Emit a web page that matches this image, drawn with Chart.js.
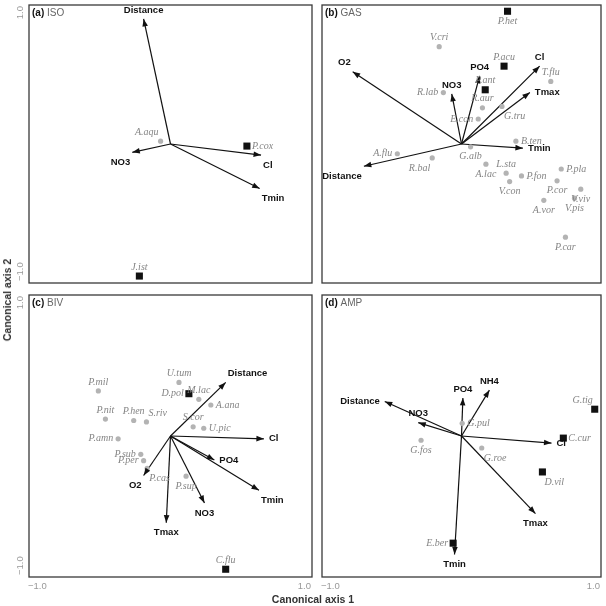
<html>
<head>
<style>
body { margin:0; background:#fff; }
#wrap { position:relative; width:606px; height:606px; }
canvas { position:absolute; left:0; top:0; }
.ttl { position:absolute; font-family:"Liberation Sans", Arial, sans-serif; font-weight:bold; font-size:10.5px; color:#333; white-space:nowrap; }
</style>
</head>
<body>
<script src="https://cdn.jsdelivr.net/npm/chart.js@4"></script>
<div id="wrap">
<canvas id="cA" width="606" height="606"></canvas>
<canvas id="cB" width="606" height="606"></canvas>
<canvas id="cC" width="606" height="606"></canvas>
<canvas id="cD" width="606" height="606"></canvas>
<div class="ttl" style="left:313px;top:599px;transform:translate(-50%,-50%)">Canonical axis 1</div>
<div class="ttl" style="left:7px;top:300px;transform:translate(-50%,-50%) rotate(-90deg)">Canonical axis 2</div>
</div>
<script>
// (a) ISO
const isoEnv = ['Distance', 'NO3', 'Cl', 'Tmin'];
const isoEnvX = [-0.19, -0.27, 0.64, 0.63];
const isoEnvY = [0.90, -0.06, -0.08, -0.32];
const isoSpp = ['A.aqu', 'P.cox', 'J.ist'];
const isoSppX = [-0.07, 0.54, -0.22];
const isoSppY = [0.02, -0.015, -0.95];
const isoSppKind = ['o', 's', 's'];

// (b) GAS
const gasEnv = ['O2', 'NO3', 'PO4', 'Cl', 'Tmax', 'Tmin', 'Distance'];
const gasEnvX = [-0.78, -0.07, 0.13, 0.56, 0.49, 0.44, -0.70];
const gasEnvY = [0.52, 0.36, 0.49, 0.56, 0.37, -0.03, -0.16];
const gasSpp = ['P.het', 'V.cri', 'P.acu', 'P.ant', 'T.flu', 'R.lab', 'R.aur', 'G.tru', 'E.con', 'B.ten', 'G.alb', 'A.flu',
  'R.bal', 'A.lac', 'L.sta', 'P.fon', 'V.con', 'P.pla', 'P.cor', 'V.viv', 'V.pis', 'A.vor', 'P.car'];
const gasSppX = [0.33, -0.16, 0.305, 0.17, 0.64, -0.13, 0.15, 0.29, 0.12, 0.39, 0.065, -0.46,
  -0.21, 0.175, 0.32, 0.43, 0.345, 0.715, 0.685, 0.855, 0.81, 0.59, 0.745];
const gasSppY = [0.955, 0.70, 0.56, 0.39, 0.45, 0.37, 0.26, 0.27, 0.18, 0.02, -0.02, -0.07,
  -0.10, -0.145, -0.21, -0.23, -0.27, -0.18, -0.265, -0.325, -0.39, -0.405, -0.67];
const gasSppKind = ['s', 'o', 's', 's', 'o', 'o', 'o', 'o', 'o', 'o', 'o', 'o',
  'o', 'o', 'o', 'o', 'o', 'o', 'o', 'o', 'o', 'o', 'o'];

// (c) BIV
const bivEnv = ['Distance', 'Cl', 'PO4', 'Tmin', 'NO3', 'Tmax', 'O2'];
const bivEnvX = [0.39, 0.66, 0.31, 0.625, 0.24, -0.03, -0.19];
const bivEnvY = [0.38, -0.02, -0.17, -0.385, -0.475, -0.615, -0.28];
const bivSpp = ['U.tum', 'D.pol', 'M.lac', 'A.ana', 'P.mil', 'P.nit', 'P.hen', 'S.riv', 'S.cor', 'U.pic', 'P.amn',
  'P.sub', 'P.per', 'P.cas', 'P.sup', 'C.flu'];
const bivSppX = [0.06, 0.13, 0.20, 0.285, -0.51, -0.46, -0.26, -0.17, 0.16, 0.235, -0.37, -0.21, -0.19, -0.165, 0.11, 0.39];
const bivSppY = [0.38, 0.30, 0.26, 0.22, 0.32, 0.12, 0.11, 0.10, 0.065, 0.055, -0.02, -0.13, -0.175, -0.23, -0.285, -0.945];
const bivSppKind = ['o', 's', 'o', 'o', 'o', 'o', 'o', 'o', 'o', 'o', 'o', 'o', 'o', 'o', 'o', 's'];

// (d) AMP
const ampEnv = ['PO4', 'NH4', 'Distance', 'NO3', 'Cl', 'Tmax', 'Tmin'];
const ampEnvX = [0.01, 0.20, -0.55, -0.31, 0.645, 0.53, -0.05];
const ampEnvY = [0.27, 0.325, 0.245, 0.095, -0.05, -0.55, -0.84];
const ampSpp = ['G.pul', 'G.fos', 'G.roe', 'G.tig', 'C.cur', 'D.vil', 'E.ber'];
const ampSppX = [0.005, -0.29, 0.145, 0.955, 0.73, 0.58, -0.06];
const ampSppY = [0.09, -0.03, -0.085, 0.19, -0.015, -0.255, -0.76];
const ampSppKind = ['o', 'o', 'o', 's', 's', 's', 's'];

const axisTicks = [-1.0, 1.0];

// where each label sits next to its point (t/b/l/r and corners)
const isoEnvPos = ['t', 'bl', 'br', 'br'];
const isoSppPos = ['tl', 'r', 't'];
const gasEnvPos = ['tl', 't', 't', 't', 'r', 'r', 'bl'];
const gasSppPos = ['b', 't', 't', 't', 't', 'l', 't', 'br', 'l', 'r', 'b', 'l',
  'bl', 'b', 't', 'r', 'b', 'r', 'b', 'b', 'b', 'b', 'b'];
const bivEnvPos = ['tr', 'r', 'r', 'br', 'b', 'b', 'bl'];
const bivSppPos = ['t', 'l', 't', 'r', 't', 't', 't', 'tr', 't', 'r', 'l', 'l', 'l', 'br', 'b', 't'];
const ampEnvPos = ['t', 't', 'l', 't', 'r', 'b', 'b'];
const ampSppPos = ['r', 'b', 'br', 'tl', 'r', 'br', 'l'];

function putLabel(ctx, text, x, y, pos) {
  let dx = 0, dy = 0, align = 'center';
  if (pos.includes('t')) dy = -9;
  if (pos.includes('b')) dy = 10;
  const diag = pos.length > 1;
  if (pos.includes('l')) { dx = diag ? -2 : -5; align = 'right'; }
  if (pos.includes('r')) { dx = diag ? 2 : 5; align = 'left'; }
  ctx.textAlign = align;
  ctx.textBaseline = 'middle';
  ctx.fillText(text, x + dx, y + dy);
}

function fmt(v) {
  return (v < 0 ? '\u2212' : '') + Math.abs(v).toFixed(1);
}

function buildPanel(id, box, tag, name, env, envX, envY, envPos, spp, sppX, sppY, sppKind, sppPos, showX, showY) {
  const datasets = [];
  datasets.push({
    data: spp.map((s, i) => ({ x: sppX[i], y: sppY[i] })),
    pointStyle: sppKind.map(k => k === 's' ? 'rect' : 'circle'),
    pointRadius: sppKind.map(k => k === 's' ? 5 : 2.6),
    backgroundColor: sppKind.map(k => k === 's' ? '#111' : '#b3b3b3'),
    borderWidth: 0,
    showLine: false,
    clip: false
  });
  for (let i = 0; i < env.length; i++) {
    datasets.push({
      data: [{ x: 0, y: 0 }, { x: envX[i], y: envY[i] }],
      showLine: true,
      borderColor: '#111',
      borderWidth: 1.2,
      pointRadius: 0,
      clip: false
    });
  }

  const plug = {
    id: 'biplot_' + id,
    afterDatasetsDraw(chart) {
      const ctx = chart.ctx;
      ctx.save();
      // arrow heads + env labels
      for (let i = 0; i < env.length; i++) {
        const pts = chart.getDatasetMeta(i + 1).data;
        const a = pts[0], b = pts[1];
        const ang = Math.atan2(b.y - a.y, b.x - a.x);
        ctx.fillStyle = '#111';
        ctx.beginPath();
        ctx.moveTo(b.x, b.y);
        ctx.lineTo(b.x - 7.5 * Math.cos(ang) + 2.8 * Math.sin(ang), b.y - 7.5 * Math.sin(ang) - 2.8 * Math.cos(ang));
        ctx.lineTo(b.x - 7.5 * Math.cos(ang) - 2.8 * Math.sin(ang), b.y - 7.5 * Math.sin(ang) + 2.8 * Math.cos(ang));
        ctx.closePath();
        ctx.fill();
        ctx.font = 'bold 9.5px "Liberation Sans", Arial, sans-serif';
        ctx.fillStyle = '#111';
        putLabel(ctx, env[i], b.x, b.y, envPos[i]);
      }
      // species labels
      const sp = chart.getDatasetMeta(0).data;
      ctx.font = 'italic 10px "Liberation Serif", "Times New Roman", serif';
      ctx.fillStyle = '#858585';
      sp.forEach((p, j) => putLabel(ctx, spp[j], p.x, p.y, sppPos[j]));
      ctx.restore();
    },
    afterDraw(chart) {
      const ctx = chart.ctx, ca = chart.chartArea;
      const xs = chart.scales.x, ys = chart.scales.y;
      ctx.save();
      ctx.strokeStyle = '#3a3a3a';
      ctx.lineWidth = 1.3;
      ctx.strokeRect(ca.left, ca.top, ca.right - ca.left, ca.bottom - ca.top);
      // panel tag
      ctx.textBaseline = 'middle';
      ctx.textAlign = 'left';
      ctx.font = 'bold 10px "Liberation Sans", Arial, sans-serif';
      ctx.fillStyle = '#111';
      ctx.fillText(tag, ca.left + 3, ca.top + 8);
      const w = ctx.measureText(tag).width;
      ctx.font = '10px "Liberation Sans", Arial, sans-serif';
      ctx.fillStyle = '#666';
      ctx.fillText(' ' + name, ca.left + 3 + w, ca.top + 8);
      // ticks
      ctx.font = '9.5px "Liberation Sans", Arial, sans-serif';
      ctx.fillStyle = '#999';
      if (showX) {
        const lo = xs.getPixelForValue(axisTicks[0]), hi = xs.getPixelForValue(axisTicks[1]);
        ctx.textAlign = 'left';
        ctx.fillText(fmt(axisTicks[0]), lo - 1, ca.bottom + 9);
        ctx.textAlign = 'right';
        ctx.fillText(fmt(axisTicks[1]), hi - 1, ca.bottom + 9);
      }
      if (showY) {
        const top = ys.getPixelForValue(axisTicks[1]), bot = ys.getPixelForValue(axisTicks[0]);
        ctx.translate(ca.left - 8.5, 0);
        ctx.rotate(-Math.PI / 2);
        ctx.textAlign = 'right';
        ctx.fillText(fmt(axisTicks[1]), -(top + 1), 0);
        ctx.textAlign = 'left';
        ctx.fillText(fmt(axisTicks[0]), -(bot - 2), 0);
      }
      ctx.restore();
    }
  };

  return new Chart(document.getElementById(id), {
    type: 'scatter',
    data: { datasets: datasets },
    options: {
      responsive: false,
      animation: false,
      events: [],
      layout: { padding: { left: box.l, top: box.t, right: 606 - box.r, bottom: 606 - box.b } },
      scales: {
        x: { display: false, min: -1, max: 1 },
        y: { display: false, min: -1, max: 1 }
      },
      plugins: { legend: { display: false }, tooltip: { enabled: false } }
    },
    plugins: [plug]
  });
}

buildPanel('cA', { l: 29, t: 1, r: 312, b: 283 }, '(a)', 'ISO', isoEnv, isoEnvX, isoEnvY, isoEnvPos,
  isoSpp, isoSppX, isoSppY, isoSppKind, isoSppPos, false, true);
buildPanel('cB', { l: 322, t: 1, r: 605, b: 283 }, '(b)', 'GAS', gasEnv, gasEnvX, gasEnvY, gasEnvPos,
  gasSpp, gasSppX, gasSppY, gasSppKind, gasSppPos, false, false);
buildPanel('cC', { l: 29, t: 295, r: 312, b: 577 }, '(c)', 'BIV', bivEnv, bivEnvX, bivEnvY, bivEnvPos,
  bivSpp, bivSppX, bivSppY, bivSppKind, bivSppPos, true, true);
buildPanel('cD', { l: 322, t: 295, r: 605, b: 577 }, '(d)', 'AMP', ampEnv, ampEnvX, ampEnvY, ampEnvPos,
  ampSpp, ampSppX, ampSppY, ampSppKind, ampSppPos, true, false);
</script>
</body>
</html>
